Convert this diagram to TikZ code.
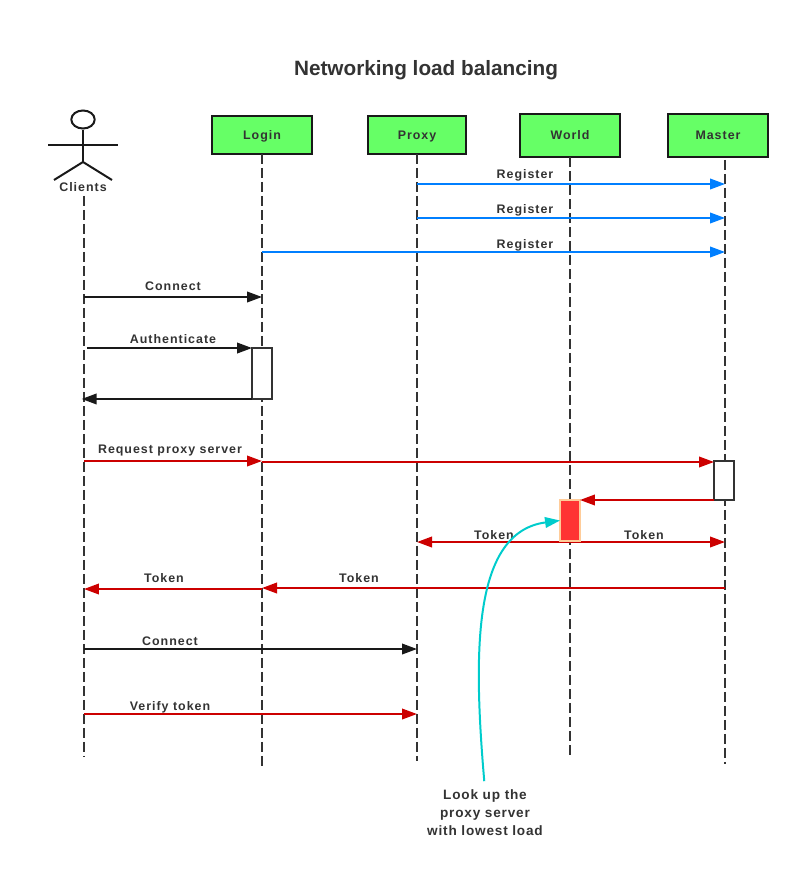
\documentclass[tikz,border=0pt]{standalone}
\usepackage{fontspec}
\setmainfont{Liberation Sans}
\newfontfamily\labelfont[LetterSpace=8]{Liberation Sans}
\newfontfamily\notefont[LetterSpace=6]{Liberation Sans}
\usetikzlibrary{arrows.meta,positioning,shapes.geometric}
\definecolor{inkgrey}{HTML}{333333}
\definecolor{headgreen}{HTML}{66FF66}
\definecolor{msgblue}{HTML}{007FFF}
\definecolor{msgred}{HTML}{CC0000}
\definecolor{lookupcyan}{HTML}{00CCCC}
\definecolor{busyred}{HTML}{FF3333}
\definecolor{busyedge}{HTML}{FFCC99}

\begin{document}
\begin{tikzpicture}[
  x=0.03cm, y=-0.03cm,
  head/.style={draw=black!90, line width=1.7pt, fill=headgreen, inner sep=0pt, outer sep=0pt,
    text height=9.2pt, text depth=1.9pt,
    text=inkgrey, font=\labelfont\fontsize{10.6}{12}\selectfont\bfseries},
  tag/.style={text=inkgrey, inner sep=0pt, text height=9.2pt, text depth=1.9pt,
    font=\labelfont\fontsize{10.6}{12}\selectfont\bfseries},
  lifeline/.style={draw=inkgrey, line width=1.7pt, dash pattern=on 8.535pt off 3.414pt},
  actor/.style={draw=black!90, line width=1.7pt},
  activation/.style={draw=inkgrey, line width=1.7pt, fill=white, minimum width=17pt, inner sep=0pt, outer sep=0pt},
  msg/.style={line width=1.7pt, -{Triangle[length=12.8pt,width=9pt]}},
  msgboth/.style={line width=1.7pt, {Triangle[length=12.8pt,width=9pt]}-{Triangle[length=12.8pt,width=9pt]}},
]
  \useasboundingbox (0,0) rectangle (800,880);

  \node[text=inkgrey, inner sep=0pt, font=\fontsize{17.7}{20}\selectfont\bfseries] (title) at (426,70.5)
    {Networking load balancing};

  \node[head, minimum width=85.3pt, minimum height=32.4pt] (login) at (262,135) {Login};
  \node[head, minimum width=83.5pt, minimum height=32.4pt] (proxy) at (417,135) {Proxy};
  \node[head, minimum width=85.3pt, minimum height=36.7pt] (world) at (570,135.5) {World};
  \node[head, minimum width=85.3pt, minimum height=36.7pt] (master) at (718,135.5) {Master};

  \node[tag] (clients) at (83,187) {Clients};
  \node[actor, ellipse, minimum width=20pt, minimum height=15.4pt, inner sep=0pt] (clientshead) at (83,119.5) {};
  \coordinate (clientship) at (83,162);
  \draw[actor] (clientshead) -- (clientship);
  \draw[actor] (48,145) -- (118,145);
  \draw[actor] (54,180) -- (clientship) -- (112,180);

  \coordinate (clientsline) at (84,196);
  \coordinate (masterline) at (725,160);
  \draw[lifeline] (clientsline) -- (clientsline |- 0,757);
  \draw[lifeline] (login.south) -- (login.south |- 0,767);
  \draw[lifeline] (proxy.south) -- (proxy.south |- 0,761);
  \draw[lifeline] (world.south) -- (world.south |- 0,755);
  \draw[lifeline] (masterline) -- (masterline |- 0,764);

  \node[activation, minimum height=43.5pt] (actlogin) at (262,373.5) {};
  \node[activation, minimum height=33.3pt] (actmaster) at (724,480.5) {};

  % register
  \draw[msg, msgblue] (proxy |- 0,184) -- (masterline |- 0,184);
  \draw[msg, msgblue] (proxy |- 0,218) -- (masterline |- 0,218);
  \draw[msg, msgblue] (login |- 0,252) -- (masterline |- 0,252);
  \node[tag] (reg1) at (525,174.3) {Register};
  \node[tag] (reg2) at (525,209.3) {Register};
  \node[tag] (reg3) at (525,244.3) {Register};

  % connect and authenticate
  \draw[msg, black!90] (clientsline |- 0,297) -- (login |- 0,297);
  \node[tag] (conn1) at (173,286) {Connect};
  \draw[msg, black!90, shorten <=2.5pt] (clientsline |- actlogin.north west) -- (actlogin.north west);
  \node[tag] (auth) at (173,339) {Authenticate};
  \draw[msg, black!90, shorten >=-2pt] (actlogin.south west) -- (clientsline |- actlogin.south west);

  % token
  \draw[msgboth, msgred] (proxy |- 0,542) -- (masterline |- 0,542);
  \node[activation, draw=busyedge, fill=busyred, minimum height=35pt] (actworld) at (570,520.5) {};
  \node[tag] (tok1) at (494,535.4) {Token};
  \node[tag] (tok2) at (644,535.4) {Token};
  \draw[msg, msgred] (masterline |- 0,588) -- (login |- 0,588);
  \node[tag] (tok3) at (359,578) {Token};
  \draw[msg, msgred] (login |- 0,589) -- (clientsline |- 0,589);
  \node[tag] (tok4) at (164,578) {Token};

  % proxy request
  \draw[msg, msgred] (clientsline |- 0,461) -- (login |- 0,461);
  \node[tag] (req) at (170,449) {Request proxy server};
  \draw[msg, msgred] (login |- 0,462) -- (actmaster.north west |- 0,462);
  \draw[msg, msgred] (actmaster.south west) -- (actworld.north east |- actmaster.south west);

  % proxy connect
  \draw[msg, black!90] (clientsline |- 0,649) -- (proxy |- 0,649);
  \node[tag] (conn2) at (170,641) {Connect};
  \draw[msg, msgred] (clientsline |- 0,714) -- (proxy |- 0,714);
  \node[tag] (verify) at (170,706) {Verify token};

  \node[text=inkgrey, inner sep=0pt, align=center, font=\notefont\fontsize{11.6}{15.4}\selectfont\bfseries] (note) at (485,813)
    {Look up the\\proxy server\\with lowest load};
  \draw[msg, lookupcyan, shorten <=7.3pt] (note.north) .. controls (473,650) and (473,532) .. (actworld.west);
\end{tikzpicture}
\end{document}
